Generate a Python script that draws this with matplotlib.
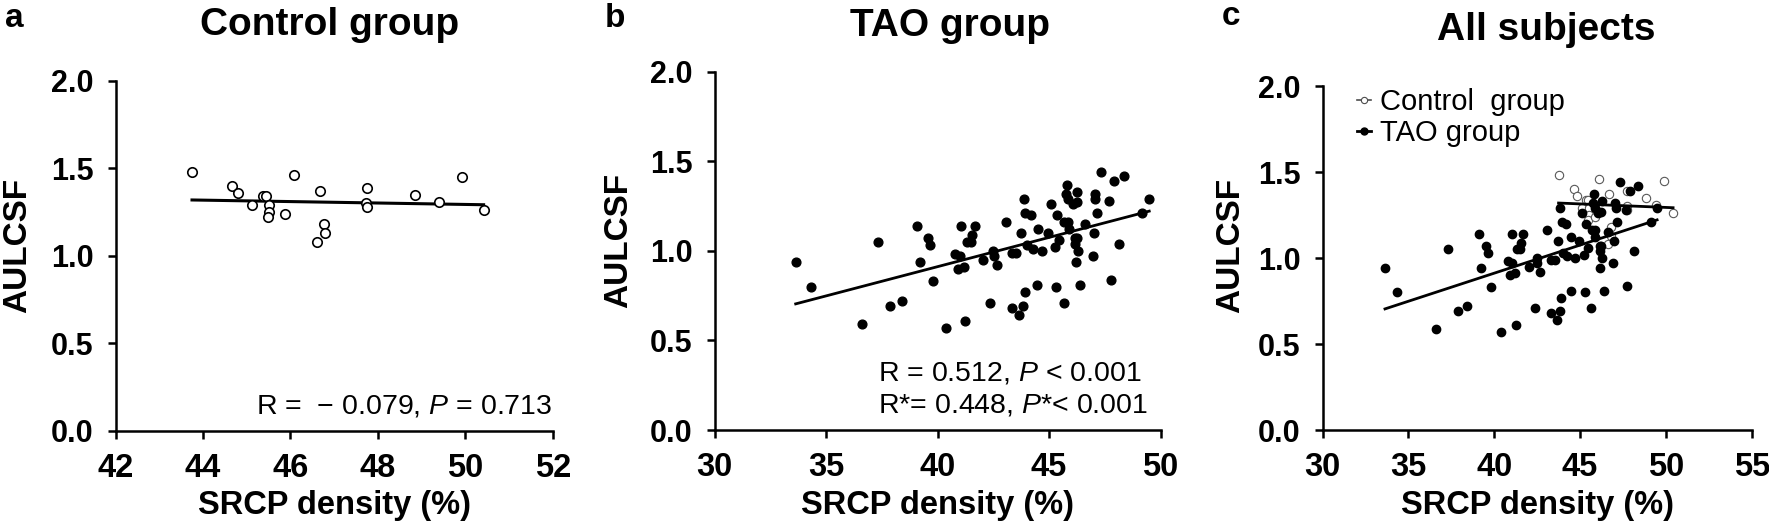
import numpy as np
import matplotlib
matplotlib.use('Agg')
import matplotlib.pyplot as plt
from matplotlib.lines import Line2D

plt.rcParams['font.family'] = ['Liberation Sans', 'DejaVu Sans']
plt.rcParams['mathtext.fontset'] = 'custom'
plt.rcParams['mathtext.rm'] = 'Liberation Sans'
plt.rcParams['mathtext.it'] = 'Liberation Sans:italic'

# Control group: SRCP density (%) vs AULCSF
ctrl_x = [43.75, 44.66, 44.81, 45.12, 45.37, 45.45, 45.50, 45.52, 45.48, 45.88, 46.09,
          46.67, 46.78, 46.79, 46.62, 47.76, 47.72, 47.76, 48.84, 49.40, 49.92, 50.42]
ctrl_y = [1.48, 1.40, 1.36, 1.29, 1.34, 1.34, 1.29, 1.25, 1.22, 1.24, 1.46,
          1.37, 1.18, 1.13, 1.08, 1.39, 1.30, 1.28, 1.35, 1.31, 1.45, 1.26]

# TAO group
tao_x = [33.64, 34.34, 37.32, 36.63, 37.89, 38.41, 39.09, 39.23, 39.55, 39.65,
         39.79, 40.38, 40.80, 41.01, 40.92, 41.19, 41.03, 41.25, 41.31, 41.52,
         41.55, 41.69, 42.03, 42.36, 42.48, 42.51, 42.66, 43.08, 43.32, 43.53,
         43.32, 43.64, 43.85, 43.92, 43.72, 43.86, 43.93, 44.20, 44.02, 44.27,
         44.45, 44.50, 44.69, 44.93, 45.09, 45.29, 45.26, 45.35, 45.44, 45.65,
         45.68, 45.87, 45.80, 45.77, 45.86, 46.07, 46.25, 46.26, 45.89, 46.17,
         46.25, 46.14, 46.29, 46.19, 46.37, 46.62, 47.00, 46.95, 47.05, 47.07,
         47.14, 47.34, 47.70, 47.76, 47.89, 48.13, 48.37, 49.16, 49.49]
tao_y = [0.94, 0.80, 1.05, 0.59, 0.69, 0.72, 1.14, 0.94, 1.07, 1.03,
         0.83, 0.57, 0.98, 0.97, 0.90, 0.91, 1.14, 0.61, 1.05, 1.05,
         1.09, 1.14, 0.95, 0.71, 1.00, 0.97, 0.92, 1.16, 0.99, 0.99,
         0.68, 0.64, 0.69, 0.77, 1.10, 1.29, 1.21, 1.20, 1.03, 1.01,
         0.81, 1.12, 1.00, 1.10, 1.26, 0.80, 1.02, 1.20, 1.06, 0.71,
         1.16, 1.16, 1.37, 1.32, 1.29, 1.26, 1.27, 1.33, 1.12, 1.07,
         1.07, 1.04, 1.00, 0.94, 0.81, 1.15, 1.10, 0.97, 1.32, 1.29,
         1.21, 1.44, 1.28, 0.84, 1.39, 1.04, 1.42, 1.21, 1.29]

W, H = 1769, 526


def box(l, r, t, b):
    return [l / W, 1 - b / H, (r - l) / W, (b - t) / H]


def style(ax, xlim, xticks):
    ax.set_xlim(xlim)
    ax.set_ylim(0, 2)
    ax.set_xticks(xticks)
    ax.set_yticks([0, 0.5, 1.0, 1.5, 2.0])
    ax.set_yticklabels(['0.0', '0.5', '1.0', '1.5', '2.0'])
    for s in ['top', 'right']:
        ax.spines[s].set_visible(False)
    for s in ['left', 'bottom']:
        ax.spines[s].set_linewidth(1.8)
    ax.tick_params(width=1.8, length=5.8, pad=10)
    ax.tick_params(axis='x', labelsize=23.5)
    ax.tick_params(axis='y', labelsize=22)
    for lab in ax.get_xticklabels() + ax.get_yticklabels():
        lab.set_fontweight('bold')


def fitline(ax, x, y, **kw):
    x = np.asarray(x)
    k, b = np.polyfit(x, y, 1)
    xx = np.array([x.min(), x.max()])
    ax.plot(xx, k * xx + b, color='k', **kw)


fig = plt.figure(figsize=(W / 100, H / 100), dpi=100)

# a: control group
axa = fig.add_axes(box(115.5, 552.7, 81, 430.7))
axa.plot(ctrl_x, ctrl_y, 'o', ms=6.8, mfc='white', mec='k', mew=1.2, zorder=3)
fitline(axa, ctrl_x, ctrl_y, lw=2.2, zorder=2)
style(axa, (42, 52), [42, 44, 46, 48, 50, 52])
axa.text(52, 0.1, 'R =  \u2212 0.079, $\\mathit{P}$ = 0.713', ha='right', va='baseline', fontsize=20.5)

# b: TAO group
axb = fig.add_axes(box(714.5, 1160.6, 71.7, 430))
axb.plot(tao_x, tao_y, 'o', ms=6.3, color='k', zorder=3)
fitline(axb, tao_x, tao_y, lw=2.0, zorder=2)
style(axb, (30, 50), [30, 35, 40, 45, 50])
axb.text(37.35, 0.279, 'R = 0.512, $\\mathit{P}$ < 0.001', ha='left', va='baseline', fontsize=20.5)
axb.text(37.35, 0.095, 'R*= 0.448, $\\mathit{P}$*< 0.001', ha='left', va='baseline', fontsize=20.5)

# c: all subjects
axc = fig.add_axes(box(1322.5, 1751.7, 86, 430))
axc.plot(ctrl_x, ctrl_y, 'o', ms=6.0, mfc='white', mec='0.35', mew=0.8, zorder=2)
axc.plot(tao_x, tao_y, 'o', ms=6.0, color='k', zorder=3)
fitline(axc, ctrl_x, ctrl_y, lw=2.0, zorder=4)
fitline(axc, tao_x, tao_y, lw=2.0, zorder=4)
style(axc, (30, 55), [30, 35, 40, 45, 50, 55])
handles = [Line2D([], [], color='0.3', lw=1.2, marker='o', ms=4.5, mfc='white', mec='0.3', mew=0.8),
           Line2D([], [], color='k', lw=2.0, marker='o', ms=5, mfc='k', mec='k')]
axc.legend(handles, ['Control  group', 'TAO group'], loc='upper left', bbox_to_anchor=(0.08, 0.995),
           frameon=False, fontsize=21, handlelength=0.5, handletextpad=0.3, labelspacing=0.12,
           borderpad=0, borderaxespad=0)

# titles, panel letters, axis labels
for ax, title, xc, base in [(axa, 'Control group', 330, 35), (axb, 'TAO group', 950, 36.5),
                            (axc, 'All subjects', 1546, 40)]:
    fig.text(xc / W, 1 - base / H, title, ha='center', va='baseline', fontsize=28, fontweight='bold')
for letter, xl, base in [('a', 5, 27), ('b', 605, 27), ('c', 1222, 25)]:
    fig.text(xl / W, 1 - base / H, letter, ha='left', va='baseline', fontsize=24, fontweight='bold')
for ax, yx, yy in [(axa, 18, 245), (axb, 619, 240), (axc, 1231, 245)]:
    pos = ax.get_position()
    fig.text((pos.x0 + pos.x1) / 2, 1 - 514 / H, 'SRCP density (%)', ha='center', va='baseline',
             fontsize=23.5, fontweight='bold')
    fig.text(yx / W, 1 - yy / H, 'AULCSF', ha='center', va='center', rotation=90,
             fontsize=24, fontweight='bold')

fig.savefig('out.png', dpi=100)
